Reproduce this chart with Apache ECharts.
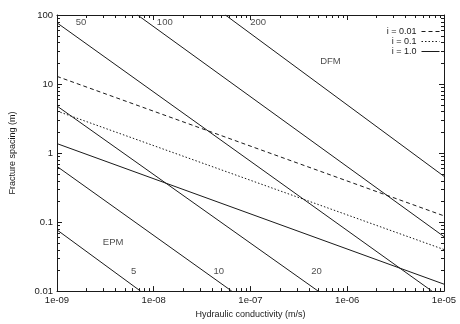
<!DOCTYPE html>
<html><head><meta charset="utf-8">
<script src="https://cdn.jsdelivr.net/npm/echarts@6/dist/echarts.min.js"></script>
<style>html,body{margin:0;padding:0;background:#fff}#c{width:460px;height:324px}</style>
</head><body><div id="c"></div>
<script>
const xTickLabels = ['1e-09', '1e-08', '1e-07', '1e-06', '1e-05'];
const yTickLabels = ['0.01', '0.1', '1', '10', '100'];

// constant-aperture lines (label in µm): end points [K (m/s), spacing (m)]
const aperture5   = [[1e-9, 0.077], [7.3e-9, 0.01]];
const aperture10  = [[1e-9, 0.64],  [6.4e-8, 0.01]];
const aperture20  = [[1e-9, 4.8],   [5.0e-7, 0.01]];
const aperture50  = [[1e-9, 77],    [7.5e-6, 0.01]];
const aperture100 = [[6.8e-9, 100], [1e-5, 0.0615]];
const aperture200 = [[5.5e-8, 100], [1e-5, 0.46]];

// hydraulic gradient lines
const gradient001 = [[1e-9, 12.9], [1e-5, 0.123]];
const gradient01  = [[1e-9, 4.06], [1e-5, 0.040]];
const gradient1   = [[1e-9, 1.37], [1e-5, 0.0126]];

const legendNames = ['i = 0.01', 'i = 0.1', 'i = 1.0'];
const annotations = [
  [1.77e-9, 79, '50'], [1.3e-8, 77, '100'], [1.2e-7, 77, '200'],
  [6.7e-7, 21, 'DFM'], [3.8e-9, 0.05, 'EPM'],
  [6.2e-9, 0.019, '5'], [4.7e-8, 0.019, '10'], [4.8e-7, 0.019, '20']
];

// log-axis minor ticks
const minorTickMultipliers = [2, 3, 4, 5, 6, 7, 8, 9];
const xDecades = [1e-9, 1e-8, 1e-7, 1e-6];
const yDecades = [0.01, 0.1, 1, 10];

const INK = '#1a1a1a';
const FONT = 'Liberation Sans';
const xMinorData = [];
xDecades.forEach(d => minorTickMultipliers.forEach(m => xMinorData.push([m * d, 1])));
const yMinorData = [];
yDecades.forEach(d => minorTickMultipliers.forEach(m => yMinorData.push([1e-7, m * d])));

const lbl = (arr, base) => (v) => arr[Math.round(Math.log10(v)) - base] || '';

function axisBase(isX, pos, showLabels) {
  return {
    type: 'log', logBase: 10,
    min: isX ? 1e-9 : 0.01, max: isX ? 1e-5 : 100,
    position: pos,
    axisLine: { show: true, lineStyle: { color: INK, width: 1 } },
    axisTick: { show: true, inside: true, length: 5, lineStyle: { color: INK, width: 1 } },
    minorTick: { show: false },
    splitLine: { show: false },
    axisLabel: {
      show: showLabels, color: INK, fontFamily: FONT, fontSize: 9.5, margin: 4,
      formatter: isX ? lbl(xTickLabels, -9) : lbl(yTickLabels, -2)
    }
  };
}

const lineSeries = (name, data, type) => ({
  name, type: 'line', data, symbol: 'none', showSymbol: false,
  xAxisIndex: 0, yAxisIndex: 0, animation: false,
  lineStyle: { color: INK, width: 1, type: type || 'solid' },
  itemStyle: { color: INK }
});

const tickLine = (x1, y1, x2, y2) => ({
  type: 'line', shape: { x1, y1, x2, y2 }, style: { stroke: INK, lineWidth: 1 }
});

const chart = echarts.init(document.getElementById('c'), null, { renderer: 'canvas' });
chart.setOption({
  animation: false,
  backgroundColor: '#fff',
  grid: { left: 56, right: 16, top: 15, bottom: 30, containLabel: false },
  legend: {
    data: legendNames, orient: 'vertical', align: 'right',
    right: 20, top: 27, padding: 0, itemGap: 1, itemWidth: 18, itemHeight: 7,
    itemStyle: { opacity: 0 },
    lineStyle: { width: 1 },
    textStyle: { color: INK, fontFamily: FONT, fontSize: 9 }, selectedMode: false
  },
  xAxis: [
    Object.assign(axisBase(true, 'bottom', true), {
      name: 'Hydraulic conductivity (m/s)', nameLocation: 'middle', nameGap: 14,
      nameTextStyle: { color: INK, fontFamily: FONT, fontSize: 9, verticalAlign: 'top' }
    }),
    axisBase(true, 'top', false)
  ],
  yAxis: [
    Object.assign(axisBase(false, 'left', true), {
      name: 'Fracture spacing (m)', nameLocation: 'middle', nameGap: 40, nameRotate: 90,
      nameTextStyle: { color: INK, fontFamily: FONT, fontSize: 9 }
    }),
    axisBase(false, 'right', false)
  ],
  series: [
    lineSeries('i = 0.01', gradient001, [4, 3]),
    lineSeries('i = 0.1', gradient01, [1.5, 2]),
    lineSeries('i = 1.0', gradient1),
    lineSeries('b5', aperture5),
    lineSeries('b10', aperture10),
    lineSeries('b20', aperture20),
    lineSeries('b50', aperture50),
    lineSeries('b100', aperture100),
    lineSeries('b200', aperture200),
    {
      type: 'scatter', name: 'labels', data: annotations, symbolSize: 0,
      xAxisIndex: 0, yAxisIndex: 0, silent: true,
      label: {
        show: true, position: 'inside', color: INK, fontFamily: FONT, fontSize: 9.5,
        formatter: (p) => p.value[2]
      }
    },
    {
      type: 'custom', name: 'xMinor', data: xMinorData, silent: true, clip: false,
      xAxisIndex: 0, yAxisIndex: 0,
      renderItem: (params, api) => {
        const v = api.value(0);
        const b = api.coord([v, 0.01]);
        const t = api.coord([v, 100]);
        const x = Math.round(b[0]) + 0.5;
        return { type: 'group', children: [
          tickLine(x, b[1], x, b[1] - 3),
          tickLine(x, t[1], x, t[1] + 3)
        ] };
      }
    },
    {
      type: 'custom', name: 'yMinor', data: yMinorData, silent: true, clip: false,
      xAxisIndex: 0, yAxisIndex: 0,
      renderItem: (params, api) => {
        const v = api.value(1);
        const l = api.coord([1e-9, v]);
        const r = api.coord([1e-5, v]);
        const y = Math.round(l[1]) + 0.5;
        return { type: 'group', children: [
          tickLine(l[0], y, l[0] + 3, y),
          tickLine(r[0], y, r[0] - 3, y)
        ] };
      }
    }
  ]
});
</script></body></html>
